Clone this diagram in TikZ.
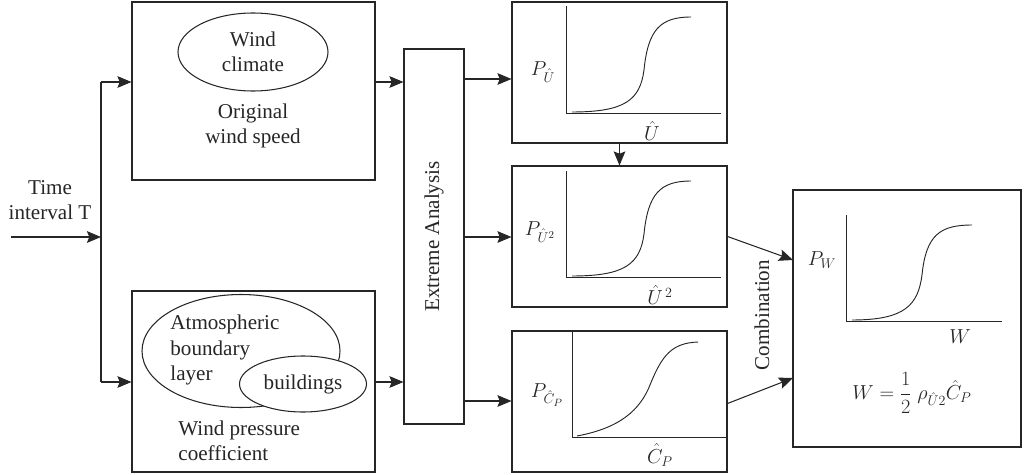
\documentclass[tikz,border=0pt]{standalone}
\usepackage{fontspec}
\setmainfont{Liberation Serif}
\usepackage{tikz}
\usetikzlibrary{arrows.meta,shapes.geometric}

\newlength\pxu
\setlength\pxu{0.03cm}

\begin{document}
\begin{tikzpicture}[x=0.03cm, y=-0.03cm, >={Stealth[length=12pt,width=10pt,inset=2pt]},
    line width=0.9pt, draw=black!85,
    every node/.style={font=\fontsize{18}{21}\selectfont, text=black!85},
    box/.style={draw, inner sep=0pt},
    blob/.style={draw, ellipse, inner sep=0pt},
    lbl/.style={inner sep=1pt}]
  \useasboundingbox (0,0) rectangle (1024,475);

  % left column
  \node[box, minimum width=243\pxu, minimum height=178\pxu] (speed) at (253.5,91) {};
  \node[box, minimum width=243\pxu, minimum height=181\pxu] (press) at (253.5,381.5) {};
  \node[blob, minimum width=150\pxu, minimum height=78\pxu, align=center] (climate) at (253,52) {Wind\\climate};
  \node[align=center] (speedtxt) at (253,126) {Original\\wind speed};
  \node[blob, minimum width=198\pxu, minimum height=113\pxu] (abl) at (241,351) {};
  \node[blob, fill=white, minimum width=127\pxu, minimum height=56\pxu] (bldg) at (303,384) {buildings};
  \node[align=left, anchor=west, font=\fontsize{18}{22}\selectfont] (abltxt) at (166,350) {Atmospheric\\boundary\\layer};
  \node[align=left, anchor=west] (presstxt) at (174,441) {Wind pressure\\coefficient};

  % time input
  \node[align=center] (time) at (50,200) {Time\\interval T};
  \coordinate (in) at (11,237);
  \coordinate (split) at (101,237);
  \coordinate (splittop) at (101,82);
  \coordinate (splitbot) at (101,382);
  \draw[->] (in) -- (split);
  \draw (splittop) -- (splitbot);
  \draw[->] (splittop) -- (splittop -| speed.west);
  \draw[->] (splitbot) -- (splitbot -| press.west);

  % extreme analysis
  \node[box, minimum width=60\pxu, minimum height=375\pxu] (extreme) at (434,236.5) {};
  \node[rotate=90] (extremetxt) at (extreme.center) {Extreme Analysis};
  \coordinate (ea) at (420,82);
  \coordinate (eb) at (420,382);
  \draw[->] (ea -| speed.east) -- (ea -| extreme.west);
  \draw[->] (eb -| press.east) -- (eb -| extreme.west);

  % distribution plots
  \node[box, minimum width=215\pxu, minimum height=141\pxu] (plotU) at (619.5,72.5) {};
  \node[box, minimum width=215\pxu, minimum height=141\pxu] (plotUU) at (619.5,236.5) {};
  \node[box, minimum width=215\pxu, minimum height=141\pxu] (plotC) at (619.5,401.5) {};
  \coordinate (pa) at (480,79);
  \coordinate (pb) at (480,237);
  \coordinate (pc) at (480,401);
  \draw[->] (pa -| extreme.east) -- (pa -| plotU.west);
  \draw[->] (pb -| extreme.east) -- (pb -| plotUU.west);
  \draw[->] (pc -| extreme.east) -- (pc -| plotC.west);
  \draw[->] (plotU.south) -- (plotUU.north);

  \draw[line width=0.8pt] (566,6) -- (566,113) -- (721,113);
  \draw[line width=0.8pt] (572,112) .. controls (625,112) and (640,100) .. (644,70)
    .. controls (648,30) and (660,17) .. (691,17);
  \node[lbl] (lblPU) at (543,72) {$P_{\hat{U}}$};
  \node[lbl] (lblU) at (652,131) {$\hat{U}$};

  \draw[line width=0.8pt] (566,171) -- (566,277) -- (721,277);
  \draw[line width=0.8pt] (572,276) .. controls (625,276) and (640,264) .. (644,234)
    .. controls (648,194) and (660,181) .. (691,181);
  \node[lbl] (lblPUU) at (540,232) {$P_{\hat{U}^2}$};
  \node[lbl] (lblUU) at (660,295) {$\hat{U}^{\,2}$};

  \draw[line width=0.8pt] (572,331) rectangle (727,437);
  \draw[line width=0.8pt] (577,436) .. controls (620,428) and (640,410) .. (650,385)
    .. controls (662,355) and (672,343) .. (698,342);
  \node[lbl] (lblPC) at (547,395) {$P_{\hat{C}_P}$};
  \node[lbl] (lblC) at (660,455) {$\hat{C}_P$};

  % combination
  \node[box, minimum width=228\pxu, minimum height=257\pxu] (final) at (907,318.5) {};
  \coordinate (fa) at (793,260);
  \coordinate (fb) at (793,378);
  \draw[->] (plotUU.east) -- (fa);
  \draw[->] ([yshift=-2\pxu]plotC.east) -- (fb);
  \node[rotate=90] (combtxt) at (762,315) {Combination};
  \draw[line width=0.8pt] (846,215) -- (846,321) -- (1002,321);
  \draw[line width=0.8pt] (852,320) .. controls (905,320) and (918,305) .. (922,275)
    .. controls (926,235) and (940,225) .. (972,225);
  \node[lbl] (lblPW) at (822,260) {$P_W$};
  \node[lbl] (lblW) at (960,337) {$W$};
  \node[lbl] (formula) at (912,393) {$\displaystyle W=\frac{1}{2}\;\rho_{\hat{U}2}\hat{C}_P$};
\end{tikzpicture}
\end{document}
